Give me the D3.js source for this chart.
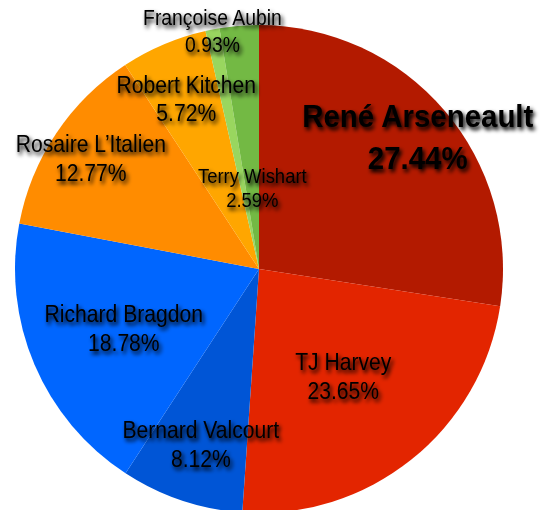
<!DOCTYPE html>
<html>
<head>
<meta charset="utf-8">
<script src="https://d3js.org/d3.v7.min.js"></script>
<style>
  body { margin: 0; background: #fff; }
  svg { display: block; }
  text { font-family: "Liberation Sans", Arial, sans-serif; fill: #000; }
</style>
</head>
<body>
<script>
const candidates = ["René Arseneault", "TJ Harvey", "Bernard Valcourt", "Richard Bragdon",
                    "Rosaire L’Italien", "Robert Kitchen", "Françoise Aubin", "Terry Wishart"];
const shares = [27.44, 23.65, 8.12, 18.78, 12.77, 5.72, 0.93, 2.59];

// styling / layout
const colors = ["#b31a00", "#e32500", "#0055d6", "#0066ff", "#ff8c00", "#ffa600", "#99d65f", "#73b944"];
const labelRadius = [0.857, 0.553, 0.75, 0.602, 0.829, 0.764, 1.0, 0.337];
const labelSize = [31, 24, 24, 24, 24, 24, 22, 21];
const labelGap = [42, 29, 29, 29, 29, 28, 27, 24];

const width = 552, height = 510;
const cx = 259, cy = 269, radius = 244;

const svg = d3.select("body").append("svg").attr("width", width).attr("height", height);

const filter = svg.append("defs").append("filter").attr("id", "shadow")
  .attr("x", "-20%").attr("y", "-40%").attr("width", "140%").attr("height", "180%");
filter.append("feGaussianBlur").attr("in", "SourceAlpha").attr("stdDeviation", 2.2).attr("result", "blur");
filter.append("feOffset").attr("in", "blur").attr("dx", 2).attr("dy", 3).attr("result", "off");
filter.append("feComponentTransfer").attr("in", "off").attr("result", "sh")
  .append("feFuncA").attr("type", "linear").attr("slope", 1.1);
const merge = filter.append("feMerge");
merge.append("feMergeNode").attr("in", "sh");
merge.append("feMergeNode").attr("in", "SourceGraphic");

const data = candidates.map((c, i) => ({name: c, value: shares[i], i}));

const pie = d3.pie().value(d => d.value).sort(null);
const arc = d3.arc().innerRadius(0).outerRadius(radius);
const arcs = pie(data);

const g = svg.append("g").attr("transform", `translate(${cx},${cy})`);

g.selectAll("path.slice")
  .data(arcs)
  .join("path")
  .attr("class", "slice")
  .attr("d", arc)
  .attr("fill", d => colors[d.data.i]);

const labels = g.selectAll("g.label")
  .data(arcs)
  .join("g")
  .attr("class", "label")
  .attr("filter", "url(#shadow)")
  .attr("transform", d => {
    const r = radius * labelRadius[d.data.i];
    const p = d3.arc().innerRadius(r).outerRadius(r).centroid(d);
    return `translate(${p[0]},${p[1]})`;
  });

labels.each(function(d) {
  const i = d.data.i;
  const fs = labelSize[i];
  const gap = labelGap[i];
  const bold = i === 0;
  const sx = bold ? 0.95 : 0.88;
  const sel = d3.select(this);
  const top = -0.19 * fs;
  sel.append("text")
    .attr("text-anchor", "middle")
    .attr("transform", `translate(0,${top}) scale(${sx},1)`)
    .style("font-size", fs + "px")
    .style("font-weight", bold ? "bold" : "normal")
    .text(d.data.name);
  sel.append("text")
    .attr("text-anchor", "middle")
    .attr("transform", `translate(0,${top + gap}) scale(${sx},1)`)
    .style("font-size", fs + "px")
    .style("font-weight", bold ? "bold" : "normal")
    .text(d3.format(".2f")(d.data.value) + "%");
});
</script>
</body>
</html>
